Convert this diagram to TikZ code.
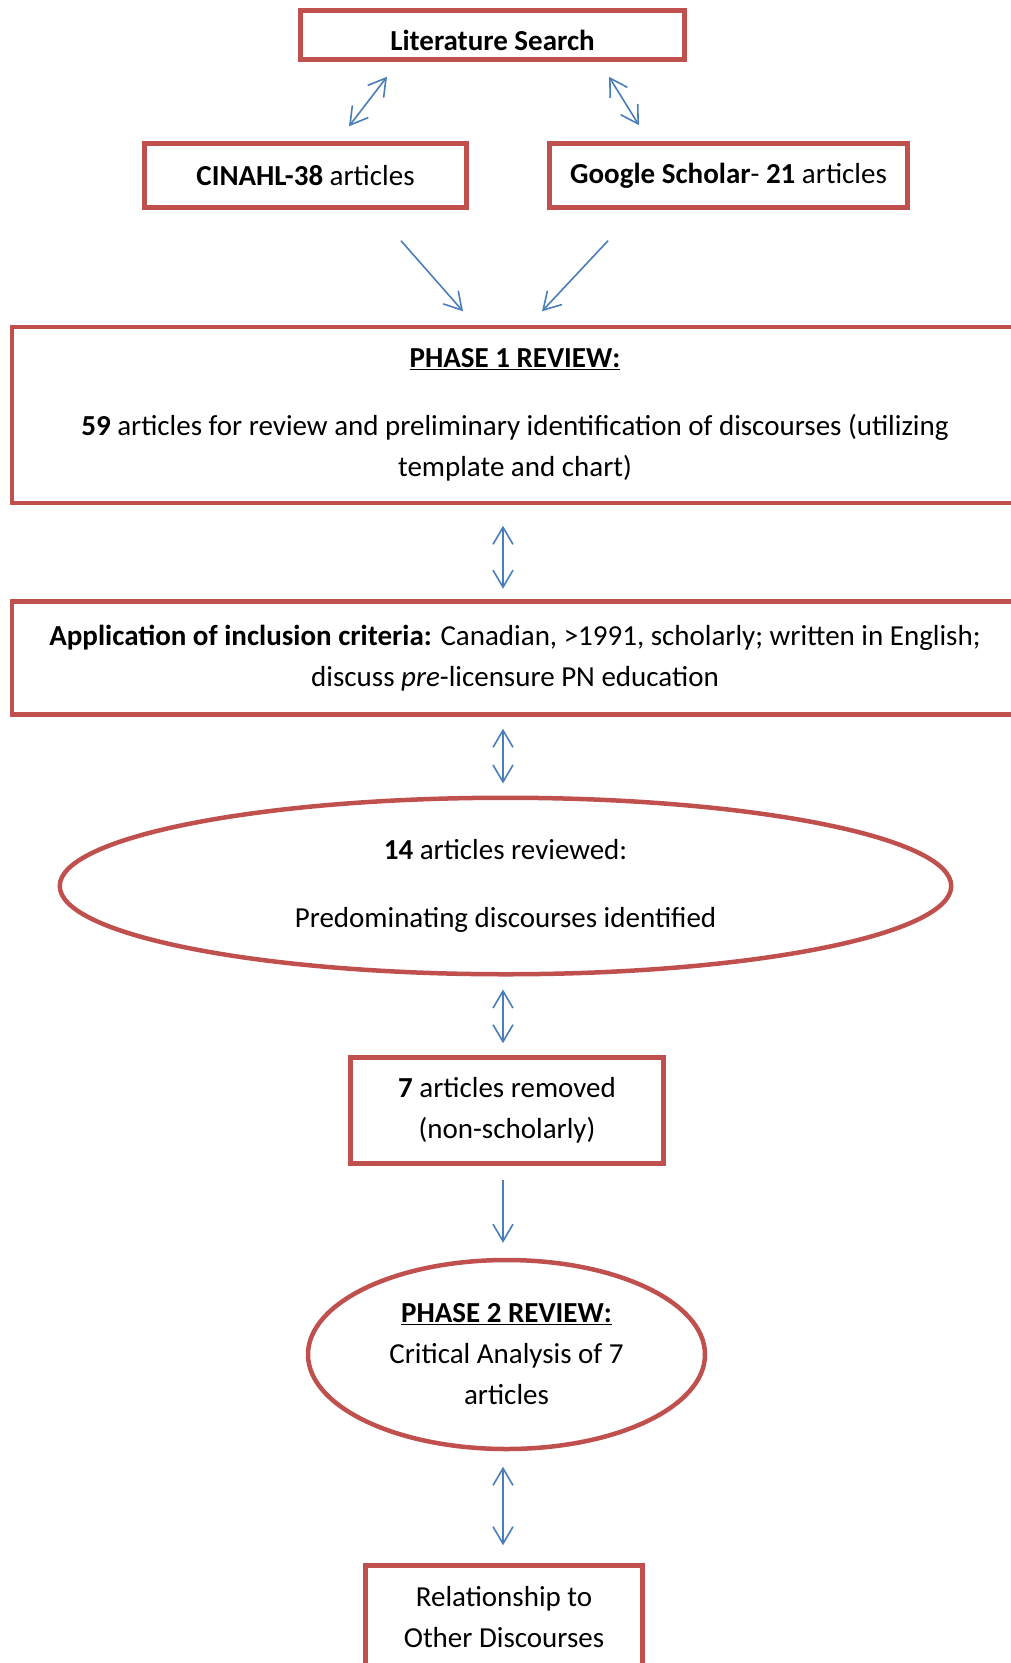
\documentclass[tikz,border=0pt]{standalone}
\usepackage{fontspec}
\setmainfont{Carlito}
\usepackage{xcolor}
\usetikzlibrary{arrows.meta,shapes.geometric}
\definecolor{boxred}{HTML}{C0504D}
\definecolor{arrowblue}{HTML}{4A7EBB}
\tikzset{
  reviewbox/.style={draw=boxred, line width=4.5pt, align=center, inner sep=0pt, font=\fontsize{29}{41}\selectfont},
  reviewoval/.style={reviewbox, ellipse},
  reviewarrow/.style={-{Straight Barb[length=17pt,width=20pt]}, draw=arrowblue, line width=1.6pt},
  reviewboth/.style={{Straight Barb[length=17pt,width=20pt]}-{Straight Barb[length=17pt,width=20pt]}, draw=arrowblue, line width=1.6pt}
}

\begin{document}
\begin{tikzpicture}[x=1pt, y=-1pt]
  \useasboundingbox (0,0) rectangle (1010,1663);
  \node[reviewbox, minimum width=384pt, minimum height=49pt, text height=30pt, text depth=0pt] (search) at (492.5,35) {\textbf{Literature Search}};
  \node[reviewbox, minimum width=322pt, minimum height=64pt] (cinahl) at (305.5,175.5) {\textbf{CINAHL-38} articles};
  \node[reviewbox, minimum width=358pt, minimum height=64pt] (google) at (728.5,175.5) {\textbf{Google Scholar}- \textbf{21} articles};
  \node[reviewbox, minimum width=1006pt, minimum height=176pt] (phase1) at (515,415) {\underline{\textbf{PHASE 1 REVIEW:}}\\[27pt]\textbf{59} articles for review and preliminary identification of discourses (utilizing\\template and chart)};
  \node[reviewbox, minimum width=1006pt, minimum height=113pt] (apply) at (515,658) {\textbf{Application of inclusion criteria:} Canadian, >1991, scholarly; written in English;\\discuss \textit{pre}-licensure PN education};
  \node[reviewoval, minimum width=891.5pt, minimum height=176.5pt] (found) at (505.5,886) {\textbf{14} articles reviewed:\\[27pt]Predominating discourses identified};
  \node[reviewbox, minimum width=313pt, minimum height=106pt] (removed) at (507,1110.5) {\textbf{7} articles removed\\(non-scholarly)};
  \node[reviewoval, minimum width=397pt, minimum height=189pt] (phase2) at (506.5,1354.5) {\underline{\textbf{PHASE 2 REVIEW:}}\\Critical Analysis of 7\\articles};
  \node[reviewbox, minimum width=277pt, minimum height=104pt] (other) at (504,1617.5) {Relationship to\\Other Discourses};
  \draw[reviewboth] ([xshift=-105.5pt,yshift=-15pt]search.south) -- ([xshift=43.5pt,yshift=15pt]cinahl.north);
  \draw[reviewboth] ([xshift=116.5pt,yshift=-15pt]search.south) -- ([xshift=-89.5pt,yshift=16pt]google.north);
  \draw[reviewarrow] ([xshift=95.5pt,yshift=-31pt]cinahl.south) -- ([xshift=-52pt,yshift=13.5pt]phase1.north);
  \draw[reviewarrow] ([xshift=-120.5pt,yshift=-31pt]google.south) -- ([xshift=27pt,yshift=13.5pt]phase1.north);
  \draw[reviewboth] ([xshift=-12pt,yshift=-20.5pt]phase1.south) -- ([xshift=-12pt,yshift=10.5pt]apply.north);
  \draw[reviewboth] ([xshift=-12pt,yshift=-12pt]apply.south) -- ([xshift=-2.5pt,yshift=12pt]found.north);
  \draw[reviewboth] ([xshift=-2.5pt,yshift=-13pt]found.south) -- ([xshift=-4pt,yshift=12pt]removed.north);
  \draw[reviewarrow] ([xshift=-4pt,yshift=-14pt]removed.south) -- ([xshift=-3.5pt,yshift=15pt]phase2.north);
  \draw[reviewboth] ([xshift=-3.5pt,yshift=-15.5pt]phase2.south) -- ([xshift=-1pt,yshift=18pt]other.north);
\end{tikzpicture}
\end{document}
